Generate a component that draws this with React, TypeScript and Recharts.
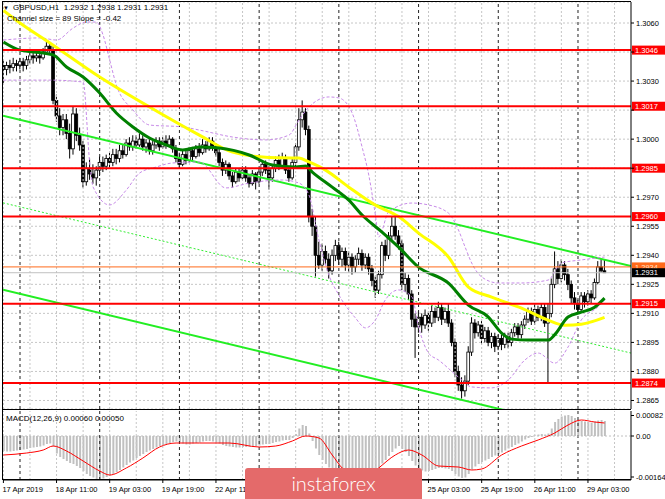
import React from "react";
import {
  ComposedChart,
  Bar,
  Line,
  XAxis,
  YAxis,
  CartesianGrid,
  ReferenceLine,
} from "recharts";

const FONT = "'Liberation Sans', Arial, sans-serif";

// GBPUSD H1 candles, 17 Apr 19:00 .. 29 Apr 08:00
const OPEN = [
  1.3038, 1.3036, 1.3038, 1.3037, 1.3039, 1.3038, 1.304, 1.3038, 1.3041, 1.3043,
  1.3042, 1.3043, 1.3042, 1.3045, 1.3048, 1.3046, 1.302, 1.3012, 1.3006, 1.301,
  1.3003, 1.2995, 1.3013, 1.3002, 1.2997, 1.2978, 1.2985, 1.2982, 1.298, 1.2984,
  1.2988, 1.2986, 1.299, 1.2988, 1.2992, 1.299, 1.2994, 1.2992, 1.2998, 1.2996,
  1.2999, 1.2997, 1.3, 1.2996, 1.2998, 1.2994, 1.2997, 1.2999, 1.2996, 1.2999,
  1.2997, 1.3, 1.2995, 1.299, 1.2987, 1.2992, 1.2989, 1.2994, 1.2991, 1.2995,
  1.2993, 1.2997, 1.2995, 1.2999, 1.2996, 1.2993, 1.2988, 1.2984, 1.2987, 1.2981,
  1.2978, 1.2983, 1.298, 1.2984, 1.298, 1.2977, 1.2982, 1.2978, 1.2983, 1.2987,
  1.2984, 1.298, 1.2985, 1.2989, 1.2986, 1.299, 1.2984, 1.298, 1.2988, 1.2996,
  1.301, 1.3014, 1.3005, 1.296, 1.2955, 1.294, 1.2935, 1.2942, 1.2938, 1.2932,
  1.294, 1.2945, 1.2938, 1.2942, 1.2935, 1.2939, 1.2934, 1.2938, 1.2941, 1.2935,
  1.2939, 1.2933, 1.2927, 1.2922, 1.293, 1.2945, 1.294, 1.295, 1.2955, 1.295,
  1.2946, 1.2925, 1.2928, 1.292, 1.2907, 1.2903, 1.2908, 1.2904, 1.2909, 1.2905,
  1.2911, 1.2908, 1.2913, 1.2907, 1.2911, 1.2905, 1.2895, 1.288, 1.2873, 1.287,
  1.2875, 1.289, 1.2905, 1.29, 1.2904, 1.2897, 1.2901, 1.2895, 1.2898, 1.2893,
  1.2897, 1.2894, 1.2898, 1.2895, 1.29, 1.2903, 1.2899, 1.2904, 1.2907, 1.2911,
  1.2906, 1.2912, 1.2908, 1.2913, 1.2905, 1.291, 1.2925, 1.2933, 1.2928, 1.2935,
  1.293, 1.2925, 1.2918, 1.2915, 1.2912, 1.2919, 1.2916, 1.292, 1.2918, 1.2926,
  1.2934, 1.2932,
];
const HIGH = [
  1.3041, 1.304, 1.3041, 1.3042, 1.3041, 1.3042, 1.3042, 1.3043, 1.3045, 1.3045,
  1.3046, 1.3045, 1.3047, 1.3051, 1.305, 1.3048, 1.3023, 1.3016, 1.3013, 1.3013,
  1.3008, 1.3017, 1.3016, 1.3006, 1.2999, 1.2988, 1.299, 1.2987, 1.2986, 1.2991,
  1.2991, 1.2992, 1.2993, 1.2995, 1.2995, 1.2997, 1.2997, 1.3, 1.3001, 1.3002,
  1.3002, 1.3003, 1.3002, 1.3, 1.3, 1.2999, 1.3001, 1.3001, 1.3001, 1.3002,
  1.3002, 1.3001, 1.2997, 1.2993, 1.2994, 1.2994, 1.2996, 1.2996, 1.2997, 1.2998,
  1.3, 1.2999, 1.3001, 1.3001, 1.2998, 1.2995, 1.299, 1.2989, 1.2988, 1.2983,
  1.2985, 1.2985, 1.2986, 1.2986, 1.2982, 1.2984, 1.2983, 1.2985, 1.2989, 1.2989,
  1.2986, 1.2987, 1.2991, 1.2992, 1.2993, 1.2992, 1.2986, 1.299, 1.2998, 1.3016,
  1.302, 1.3016, 1.3007, 1.2964, 1.296, 1.2947, 1.2946, 1.2945, 1.2941, 1.2943,
  1.2948, 1.2947, 1.2944, 1.2944, 1.2942, 1.2941, 1.294, 1.2944, 1.2943, 1.2941,
  1.2941, 1.2935, 1.2929, 1.2932, 1.2947, 1.2948, 1.2952, 1.296, 1.2961, 1.2953,
  1.2948, 1.2931, 1.293, 1.2922, 1.291, 1.2911, 1.291, 1.2912, 1.2911, 1.2914,
  1.2913, 1.2916, 1.2915, 1.2913, 1.2915, 1.2907, 1.2897, 1.2883, 1.2877, 1.2878,
  1.2893, 1.2908, 1.2907, 1.2906, 1.2906, 1.2903, 1.2903, 1.29, 1.29, 1.2899,
  1.2899, 1.29, 1.29, 1.2902, 1.2905, 1.2905, 1.2906, 1.2909, 1.2913, 1.2913,
  1.2915, 1.2914, 1.2915, 1.2915, 1.2915, 1.2928, 1.2942, 1.2937, 1.2938, 1.2937,
  1.2933, 1.2927, 1.2921, 1.2917, 1.2921, 1.2921, 1.2922, 1.2922, 1.2928, 1.2937,
  1.2938, 1.2938,
];
const LOW = [
  1.3029, 1.3033, 1.3034, 1.3035, 1.3035, 1.3036, 1.3035, 1.3036, 1.3039, 1.3039,
  1.304, 1.3039, 1.3041, 1.3044, 1.3044, 1.3018, 1.3009, 1.3002, 1.3002, 1.3,
  1.299, 1.2992, 1.2999, 1.2994, 1.2975, 1.2976, 1.2979, 1.2977, 1.2976, 1.2981,
  1.2983, 1.2984, 1.2985, 1.2986, 1.2987, 1.2988, 1.299, 1.2991, 1.2994, 1.2994,
  1.2995, 1.2996, 1.2994, 1.2993, 1.2992, 1.2992, 1.2995, 1.2994, 1.2995, 1.2995,
  1.2996, 1.2993, 1.2988, 1.2985, 1.2986, 1.2987, 1.2988, 1.2989, 1.299, 1.2991,
  1.2992, 1.2993, 1.2994, 1.2994, 1.2991, 1.2986, 1.2981, 1.2982, 1.2979, 1.2975,
  1.2977, 1.2978, 1.2979, 1.2978, 1.2975, 1.2976, 1.2974, 1.2977, 1.2981, 1.2982,
  1.2974, 1.2978, 1.2983, 1.2984, 1.2985, 1.2982, 1.2978, 1.2979, 1.2986, 1.2994,
  1.3006, 1.3002, 1.2957, 1.295, 1.2929, 1.2933, 1.2932, 1.2935, 1.2928, 1.293,
  1.2937, 1.2935, 1.2934, 1.2932, 1.2931, 1.293, 1.2931, 1.2935, 1.2932, 1.2933,
  1.293, 1.2924, 1.2918, 1.292, 1.2928, 1.2937, 1.2938, 1.2947, 1.2948, 1.2943,
  1.2922, 1.2921, 1.2917, 1.2903, 1.2887, 1.29, 1.29, 1.2902, 1.2901, 1.2903,
  1.2905, 1.2906, 1.2904, 1.2905, 1.2903, 1.2893, 1.2877, 1.287, 1.2866, 1.2867,
  1.2873, 1.2888, 1.2897, 1.2898, 1.2894, 1.2895, 1.2893, 1.2892, 1.289, 1.2891,
  1.2891, 1.2892, 1.2892, 1.2893, 1.2898, 1.2897, 1.2897, 1.2902, 1.2905, 1.2904,
  1.2904, 1.2906, 1.2906, 1.2903, 1.2874, 1.2908, 1.2923, 1.2925, 1.2926, 1.2927,
  1.2922, 1.2915, 1.2912, 1.291, 1.2911, 1.2913, 1.2914, 1.2915, 1.2917, 1.2925,
  1.2931, 1.2931,
];
const CLOSE = [
  1.3036, 1.3038, 1.3037, 1.3039, 1.3038, 1.304, 1.3038, 1.3041, 1.3043, 1.3042,
  1.3043, 1.3042, 1.3045, 1.3048, 1.3046, 1.302, 1.3012, 1.3006, 1.301, 1.3003,
  1.2995, 1.3013, 1.3002, 1.2997, 1.2978, 1.2985, 1.2982, 1.298, 1.2984, 1.2988,
  1.2986, 1.299, 1.2988, 1.2992, 1.299, 1.2994, 1.2992, 1.2998, 1.2996, 1.2999,
  1.2997, 1.3, 1.2996, 1.2998, 1.2994, 1.2997, 1.2999, 1.2996, 1.2999, 1.2997,
  1.3, 1.2995, 1.299, 1.2987, 1.2992, 1.2989, 1.2994, 1.2991, 1.2995, 1.2993,
  1.2997, 1.2995, 1.2999, 1.2996, 1.2993, 1.2988, 1.2984, 1.2987, 1.2981, 1.2978,
  1.2983, 1.298, 1.2984, 1.298, 1.2977, 1.2982, 1.2978, 1.2983, 1.2987, 1.2984,
  1.298, 1.2985, 1.2989, 1.2986, 1.299, 1.2984, 1.298, 1.2988, 1.2996, 1.301,
  1.3014, 1.3005, 1.296, 1.2955, 1.294, 1.2935, 1.2942, 1.2938, 1.2932, 1.294,
  1.2945, 1.2938, 1.2942, 1.2935, 1.2939, 1.2934, 1.2938, 1.2941, 1.2935, 1.2939,
  1.2933, 1.2927, 1.2922, 1.293, 1.2945, 1.294, 1.295, 1.2955, 1.295, 1.2946,
  1.2925, 1.2928, 1.292, 1.2907, 1.2903, 1.2908, 1.2904, 1.2909, 1.2905, 1.2911,
  1.2908, 1.2913, 1.2907, 1.2911, 1.2905, 1.2895, 1.288, 1.2873, 1.287, 1.2875,
  1.289, 1.2905, 1.29, 1.2904, 1.2897, 1.2901, 1.2895, 1.2898, 1.2893, 1.2897,
  1.2894, 1.2898, 1.2895, 1.29, 1.2903, 1.2899, 1.2904, 1.2907, 1.2911, 1.2906,
  1.2912, 1.2908, 1.2913, 1.2905, 1.291, 1.2925, 1.2933, 1.2928, 1.2935, 1.293,
  1.2925, 1.2918, 1.2915, 1.2912, 1.2919, 1.2916, 1.292, 1.2918, 1.2926, 1.2934,
  1.2932, 1.2931,
];

// indicator lines: [bar index, value]
const MA_SLOW_PTS = [
  [0, 1.30665], [5, 1.306], [14, 1.30497], [29, 1.30321], [44, 1.30166], [59, 1.30021],
  [69, 1.29933], [79, 1.29907], [89, 1.29902], [92, 1.29882], [97, 1.2984], [104, 1.29752],
  [112, 1.29659], [119, 1.296], [125, 1.29515], [134, 1.29391], [140, 1.29236], [147, 1.29184],
  [156, 1.29127], [164, 1.29065], [169, 1.29039], [174, 1.29044], [181, 1.29079],
];
const MA_FAST_PTS = [
  [0, 1.30502], [5, 1.3046], [12, 1.30445], [15, 1.30435], [19, 1.30373], [24, 1.30321],
  [29, 1.30238], [34, 1.30135], [39, 1.30063], [44, 1.30006], [49, 1.2997], [54, 1.29944],
  [59, 1.29959], [65, 1.29954], [74, 1.29918], [81, 1.29866], [88, 1.29856], [91, 1.29861],
  [93, 1.2983], [99, 1.29752], [104, 1.29685], [108, 1.29608], [114, 1.2952], [119, 1.29442],
  [125, 1.29339], [134, 1.29256], [140, 1.29143], [146, 1.29081], [150, 1.28998], [153, 1.28967],
  [158, 1.28962], [164, 1.28962], [166, 1.2899], [170, 1.29081], [174, 1.29106], [178, 1.29132],
  [181, 1.29179],
];
const BB_UPPER_PTS = [
  [0, 1.30512], [11, 1.30523], [16, 1.30512], [21, 1.30574], [25, 1.30605], [28, 1.30605],
  [30, 1.30538], [32, 1.30409], [34, 1.3028], [39, 1.30151], [44, 1.30073], [54, 1.30063],
  [59, 1.30047], [69, 1.30011], [79, 1.29996], [86, 1.30021], [89, 1.30099], [92, 1.30166],
  [98, 1.30218], [101, 1.30213], [105, 1.30135], [108, 1.29959], [110, 1.29815], [112, 1.29608],
  [113, 1.29495], [116, 1.29624], [123, 1.2967], [128, 1.2966], [134, 1.29618], [137, 1.29531],
  [139, 1.29443], [141, 1.2936], [144, 1.29288], [149, 1.29257], [156, 1.29257], [164, 1.29272],
  [168, 1.2936], [174, 1.29376], [181, 1.29391],
];
const BB_LOWER_PTS = [
  [0, 1.30305], [14, 1.30305], [24, 1.30295], [26, 1.29877], [27, 1.29753], [32, 1.2966],
  [37, 1.29737], [41, 1.29825], [46, 1.29856], [51, 1.29877], [59, 1.29882], [67, 1.29748],
  [74, 1.29773], [84, 1.29789], [89, 1.29773], [92, 1.29711], [95, 1.29479], [98, 1.29298],
  [101, 1.29195], [106, 1.29076], [109, 1.29025], [112, 1.29066], [115, 1.2917], [119, 1.29221],
  [123, 1.29185], [125, 1.2903], [128, 1.28895], [131, 1.28859], [137, 1.28771], [141, 1.2872],
  [147, 1.28715], [152, 1.28756], [157, 1.28859], [161, 1.28895], [166, 1.28843], [170, 1.28926],
  [174, 1.29066], [179, 1.29133], [181, 1.29169],
];

// regression channel: value at left edge, value at right edge
const CHANNEL_UPPER = [1.30121, 1.29344];
const CHANNEL_MID = [1.29671, 1.28895];
const CHANNEL_LOWER = [1.29222, 1.28443];

const LEVELS = [1.3046, 1.3017, 1.2985, 1.296, 1.2915, 1.2874];
const MARK_LEVEL = 1.2934;
const BID = 1.2931;

const PRICE_TICKS = [
  1.306, 1.3045, 1.303, 1.3015, 1.3, 1.2985, 1.297, 1.2955, 1.294, 1.2925, 1.291, 1.2895,
  1.288, 1.2865,
];

const MACD_HIST = [
  -0.0006, -0.00062, -0.00062, -0.0006, -0.00058, -0.00056, -0.00054, -0.00052, -0.00048, -0.00046,
  -0.00044, -0.00042, -0.00038, -0.00032, -0.0003,
  -0.00042, -0.0007, -0.00084, -0.00092, -0.001, -0.00108, -0.00112, -0.0012, -0.00128, -0.0014,
  -0.00152, -0.0016, -0.00166, -0.00172, -0.00172,
  -0.0017, -0.00164, -0.00158, -0.00152, -0.00144, -0.00136, -0.00126, -0.00116, -0.00106, -0.00098,
  -0.00088, -0.0008, -0.00072, -0.00064, -0.00058,
  -0.00052, -0.00046, -0.0004, -0.00036, -0.00032, -0.00028, -0.00024, -0.00022, -0.00026, -0.0003,
  -0.00034, -0.00034, -0.0003, -0.00028, -0.00026,
  -0.00022, -0.0002, -0.0002, -0.00022, -0.00026, -0.0003, -0.00036, -0.0004, -0.00042, -0.00044,
  -0.00046, -0.00046, -0.00044, -0.00044, -0.00042,
  -0.0004, -0.0004, -0.00038, -0.00034, -0.00032, -0.00032, -0.00028, -0.00024, -0.00022, -0.00018,
  -0.00016, -0.00016, -0.00008, 0.00008, 0.0003,
  0.00044, 0.0004, 0.0001, -0.0002, -0.0005, -0.00076, -0.00096, -0.00112, -0.00126, -0.00136,
  -0.00142, -0.00148, -0.0015, -0.00154, -0.00156,
  -0.00158, -0.00158, -0.00154, -0.0015, -0.00148, -0.00146, -0.00146, -0.00146, -0.0013, -0.0011,
  -0.00096, -0.0008, -0.00064, -0.0005, -0.0004,
  -0.00052, -0.00064, -0.0008, -0.001, -0.00118, -0.0013, -0.00138, -0.00142, -0.0014, -0.00136,
  -0.00132, -0.00128, -0.00128, -0.0013, -0.00132,
  -0.0014, -0.00152, -0.00162, -0.00168, -0.00166, -0.00152, -0.00134, -0.00122, -0.00112, -0.00104,
  -0.00098, -0.00092, -0.00084, -0.00078, -0.00072,
  -0.00066, -0.00058, -0.0005, -0.00044, -0.00036, -0.0003, -0.00022, -0.00014, -0.00008, -0.00004,
  0.00002, 0.00006, 0.00008, 0.00006, 0.0001,
  0.0003, 0.00056, 0.00068, 0.00078, 0.00082, 0.00084, 0.0008, 0.00072, 0.00066, 0.0006,
  0.00058, 0.00056, 0.00054, 0.00058, 0.00062, 0.00064, 0.0006,
];
const MACD_SIGNAL_PTS = [
  [0, -0.00076], [7, -0.00068], [12, -0.00056], [15, -0.0004], [19, -0.0006], [24, -0.001],
  [29, -0.0014], [32, -0.00156], [37, -0.00128], [42, -0.00088], [47, -0.00044], [52, -0.00028],
  [59, -0.00028], [68, -0.00028], [77, -0.00044], [82, -0.0004], [87, -0.0002], [91, 0],
  [95, -0.00008], [99, -0.00076], [102, -0.00128], [106, -0.00156], [110, -0.0016], [113, -0.00128],
  [118, -0.00076], [122, -0.00056], [126, -0.00076], [131, -0.0012], [137, -0.00124], [141, -0.00136],
  [144, -0.00132], [150, -0.00076], [156, -0.0004], [161, -0.00016], [166, 0.00012], [170, 0.00044],
  [174, 0.00064], [178, 0.00056], [181, 0.00052],
];
const MACD_TICKS = [0.00082, 0, -0.00164];
const MACD_TICK_LABELS = ["0.00082", "0.00", "-0.00164"];

const TIME_LABELS = [
  "17 Apr 2019", "18 Apr 11:00", "19 Apr 03:00", "19 Apr 19:00", "22 Apr 11:00", "23 Apr 03:00",
  "23 Apr 19:00", "24 Apr 11:00", "25 Apr 03:00", "25 Apr 19:00", "26 Apr 11:00", "29 Apr 03:00",
];
const TIME_LABEL_BARS = [0, 16, 32, 48, 64, 80, 96, 112, 128, 144, 160, 176];
// labels that sit under the watermark in the source picture
const COVERED_LABEL_BARS = [80, 96, 112];
const GRID_BARS = [0, 8, 16, 24, 32, 40, 48, 56, 64, 72, 80, 88, 96, 104, 112, 120, 128, 136, 144, 152, 160, 168, 176, 184];
const DAY_START_BARS = [5, 29, 53, 77, 101, 125, 149, 173];

const X_DOMAIN: [number, number] = [-0.12, 188.96];
const PRICE_DOMAIN: [number, number] = [1.28606, 1.307085];
const MACD_DOMAIN: [number, number] = [-0.00176, 0.001];

const toLookup = (pts: number[][]) => {
  const m: Record<number, number> = {};
  pts.forEach(([i, v]) => (m[i] = v));
  return m;
};
const slow = toLookup(MA_SLOW_PTS);
const fast = toLookup(MA_FAST_PTS);
const bbUp = toLookup(BB_UPPER_PTS);
const bbLo = toLookup(BB_LOWER_PTS);
const sig = toLookup(MACD_SIGNAL_PTS);

const priceRows = OPEN.map((o, i) => ({
  i,
  o,
  h: HIGH[i],
  l: LOW[i],
  c: CLOSE[i],
  range: [LOW[i], HIGH[i]],
  maSlow: slow[i] ?? null,
  maFast: fast[i] ?? null,
  bbUp: bbUp[i] ?? null,
  bbLo: bbLo[i] ?? null,
}));

const macdRows = MACD_HIST.map((v, i) => ({ i, hist: v, signal: sig[i] ?? null }));

const Candle = (props: any) => {
  const { x, y, width, height, payload } = props;
  if (payload == null || x == null || y == null) return null;
  const top = Math.min(y, y + height);
  const span = Math.abs(height);
  const rng = payload.h - payload.l;
  const py = (p: number) => (rng > 0 ? top + ((payload.h - p) / rng) * span : top);
  const cx = x + width / 2;
  const bTop = py(Math.max(payload.o, payload.c));
  const bBot = py(Math.min(payload.o, payload.c));
  const bull = payload.c > payload.o;
  return (
    <g>
      <line x1={cx} x2={cx} y1={top} y2={top + span} stroke="#000" strokeWidth={1} />
      <rect
        x={cx - 1.4}
        y={bTop}
        width={2.8}
        height={Math.max(bBot - bTop, 0.8)}
        fill={bull ? "#fff" : "#000"}
        stroke="#000"
        strokeWidth={0.8}
      />
    </g>
  );
};

// price labels hidden behind a level tag are not drawn
const PriceTick = (props: any) => {
  const { x, y, payload } = props;
  const v = Number(payload.value);
  if (LEVELS.some((lv) => Math.abs(lv - v) < 0.00025)) return null;
  return (
    <text x={x} y={y} dy={2.7} fontSize={7.5} fontFamily={FONT} fill="#000">
      {v.toFixed(4)}
    </text>
  );
};

const MacdTick = (props: any) => {
  const { x, y, payload } = props;
  const k = MACD_TICKS.indexOf(payload.value);
  return (
    <text x={x} y={y} dy={2.7} fontSize={7.5} fontFamily={FONT} fill="#000">
      {MACD_TICK_LABELS[k]}
    </text>
  );
};

const TimeTick = (props: any) => {
  const { x, y, payload } = props;
  if (COVERED_LABEL_BARS.includes(payload.value)) return null;
  const k = TIME_LABEL_BARS.indexOf(payload.value);
  return (
    <text x={x - 1} y={y} dy={6.5} fontSize={7.5} fontFamily={FONT} fill="#000">
      {TIME_LABELS[k]}
    </text>
  );
};

const PriceTag = (props: any) => {
  const { viewBox, text, bg, fg } = props;
  if (!viewBox) return null;
  const left = viewBox.x + viewBox.width;
  const y = viewBox.y;
  return (
    <g>
      <rect x={left + 1} y={y - 4.5} width={34} height={9} fill={bg} />
      <text x={left + 4} y={y + 2.7} fontSize={7.5} fontFamily={FONT} fill={fg}>
        {text}
      </text>
    </g>
  );
};

const gridLines = (prefix: string) => [
  ...GRID_BARS.map((b) => (
    <ReferenceLine key={prefix + "g" + b} x={b} stroke="#c6c6c6" strokeDasharray="2 2" ifOverflow="hidden" />
  )),
  ...DAY_START_BARS.map((b) => (
    <ReferenceLine key={prefix + "d" + b} x={b} stroke="#222" strokeDasharray="3 3" ifOverflow="hidden" />
  )),
];

const seg = (vals: number[]) => [
  { x: X_DOMAIN[0], y: vals[0] },
  { x: X_DOMAIN[1], y: vals[1] },
];

export default function App() {
  return (
    <div
      style={{
        position: "absolute",
        left: 0,
        top: 0,
        width: 665,
        height: 499,
        background: "#fff",
        overflow: "hidden",
        fontFamily: FONT,
      }}
    >
      <div style={{ position: "absolute", left: 0, top: 0 }}>
        <ComposedChart width={665} height={410} data={priceRows} margin={{ top: 2, right: 0, bottom: 1, left: 3 }}>
          <CartesianGrid vertical={false} stroke="#c6c6c6" strokeDasharray="2 2" />
          <XAxis type="number" dataKey="i" domain={X_DOMAIN} allowDataOverflow hide ticks={GRID_BARS} />
          <YAxis
            orientation="right"
            width={34}
            domain={PRICE_DOMAIN}
            allowDataOverflow
            ticks={PRICE_TICKS}
            interval={0}
            tick={<PriceTick />}
            tickSize={3}
            tickMargin={2}
            axisLine={{ stroke: "#000" }}
            tickLine={{ stroke: "#000" }}
          />
          {gridLines("p")}
          <ReferenceLine segment={seg(CHANNEL_MID)} stroke="#33ee33" strokeDasharray="2 2" ifOverflow="hidden" />
          <ReferenceLine segment={seg(CHANNEL_UPPER)} stroke="#22ee22" strokeWidth={2} ifOverflow="hidden" />
          <ReferenceLine segment={seg(CHANNEL_LOWER)} stroke="#22ee22" strokeWidth={2} ifOverflow="hidden" />
          <Line dataKey="bbUp" type="monotone" connectNulls dot={false} stroke="#c78ae8" strokeDasharray="3 2" strokeWidth={1} isAnimationActive={false} />
          <Line dataKey="bbLo" type="monotone" connectNulls dot={false} stroke="#c78ae8" strokeDasharray="3 2" strokeWidth={1} isAnimationActive={false} />
          <Line dataKey="maSlow" type="monotone" connectNulls dot={false} stroke="#ffff00" strokeWidth={3} isAnimationActive={false} />
          <Line dataKey="maFast" type="monotone" connectNulls dot={false} stroke="#008000" strokeWidth={3} isAnimationActive={false} />
          <Bar dataKey="range" barSize={3} isAnimationActive={false} shape={(p: any) => <Candle {...p} />} />
          {LEVELS.map((lv) => (
            <ReferenceLine
              key={"lv" + lv}
              y={lv}
              stroke="#ff0000"
              strokeWidth={2}
              label={<PriceTag text={lv.toFixed(4)} bg="#ff0000" fg="#fff" />}
            />
          ))}
          <ReferenceLine
            y={MARK_LEVEL}
            stroke="#ff6a1a"
            strokeWidth={1}
            label={<PriceTag text={MARK_LEVEL.toFixed(4)} bg="#ff6a1a" fg="#ffe0c8" />}
          />
          <ReferenceLine
            y={BID}
            stroke="#c0c0c0"
            strokeWidth={1}
            label={<PriceTag text={BID.toFixed(4)} bg="#000" fg="#fff" />}
          />
        </ComposedChart>
      </div>

      <div style={{ position: "absolute", left: 0, top: 410 }}>
        <ComposedChart width={665} height={89} data={macdRows} margin={{ top: 1, right: 0, bottom: 0, left: 3 }}>
          <XAxis
            type="number"
            dataKey="i"
            domain={X_DOMAIN}
            allowDataOverflow
            ticks={TIME_LABEL_BARS}
            interval={0}
            height={19}
            tick={<TimeTick />}
            tickSize={3}
            tickMargin={2}
            axisLine={{ stroke: "#000" }}
            tickLine={{ stroke: "#000" }}
          />
          <YAxis
            orientation="right"
            width={34}
            domain={MACD_DOMAIN}
            allowDataOverflow
            ticks={MACD_TICKS}
            interval={0}
            tick={<MacdTick />}
            tickSize={3}
            tickMargin={2}
            axisLine={{ stroke: "#000" }}
            tickLine={{ stroke: "#000" }}
          />
          {gridLines("m")}
          <ReferenceLine y={0} stroke="#c0c0c0" strokeDasharray="2 2" />
          <Bar dataKey="hist" fill="#c0c0c0" barSize={2} isAnimationActive={false} />
          <Line dataKey="signal" type="monotone" connectNulls dot={false} stroke="#ff0000" strokeWidth={1} isAnimationActive={false} />
        </ComposedChart>
      </div>

      {/* panel frames */}
      <div style={{ position: "absolute", left: 2, top: 1, width: 629, height: 408, borderLeft: "1px solid #000", borderTop: "1px solid #000", boxSizing: "border-box" }} />
      <div style={{ position: "absolute", left: 2, top: 409, width: 629, height: 71, borderLeft: "1px solid #000", borderTop: "1px solid #000", borderBottom: "1px solid #000", boxSizing: "border-box" }} />

      <div style={{ position: "absolute", left: 3, top: 3, fontSize: 6, lineHeight: "10px", color: "#000" }}>▼</div>
      <div style={{ position: "absolute", left: 13, top: 3, fontSize: 8, lineHeight: "10px", color: "#000", whiteSpace: "pre" }}>
        GBPUSD,H1  1.2932 1.2938 1.2931 1.2931
      </div>
      <div style={{ position: "absolute", left: 7, top: 14, fontSize: 8, lineHeight: "10px", color: "#000", whiteSpace: "pre" }}>
        Channel size = 89 Slope = -0.42
      </div>
      <div style={{ position: "absolute", left: 6, top: 414, fontSize: 8, lineHeight: "10px", color: "#000", whiteSpace: "pre" }}>
        MACD(12,26,9) 0.00060 0.00050
      </div>

      <div
        style={{
          position: "absolute",
          left: 245,
          top: 468,
          width: 177,
          height: 40,
          background: "#e46a6a",
          borderRadius: 3,
          color: "#fff",
          fontFamily: "Lato, 'Open Sans', sans-serif",
          fontWeight: 300,
          fontSize: 20,
          lineHeight: "30px",
          textAlign: "center",
        }}
      >
        instaforex
      </div>
    </div>
  );
}
